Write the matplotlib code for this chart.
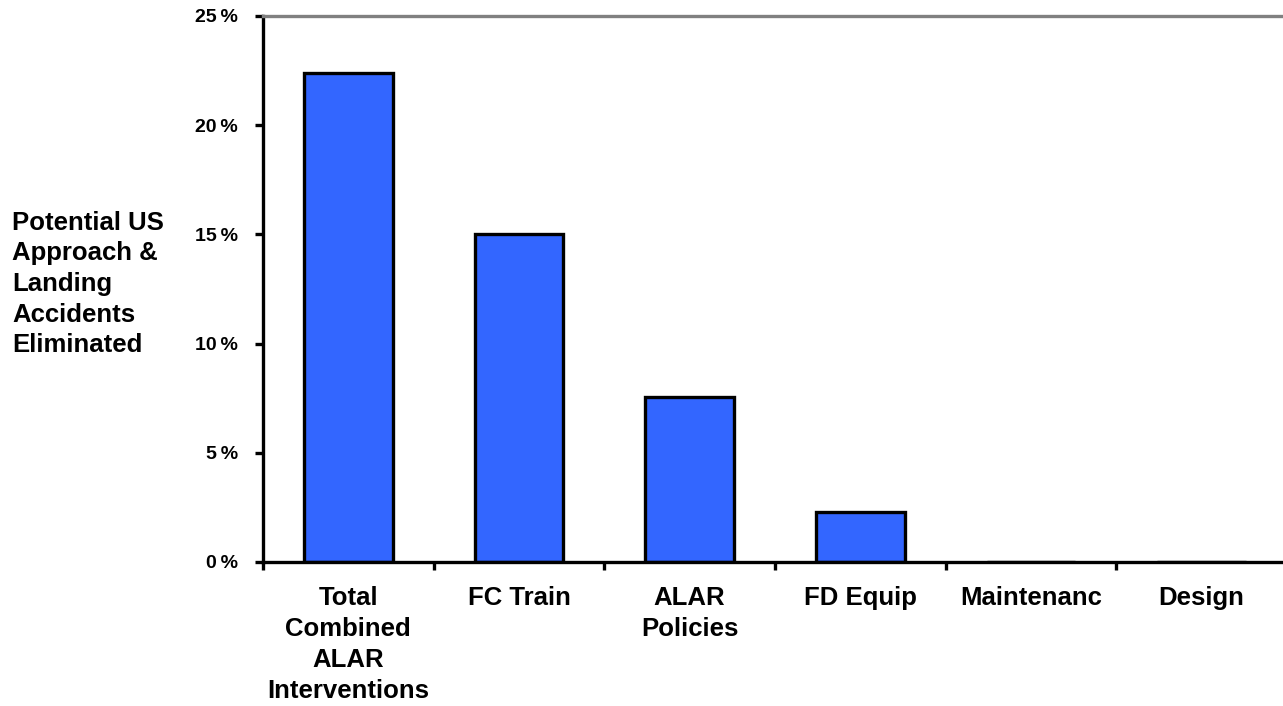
import numpy as np
import matplotlib.pyplot as plt
from matplotlib.ticker import FixedLocator, FuncFormatter

# data
categories = ['Total\nCombined\nALAR\nInterventions', 'FC Train', 'ALAR\nPolicies',
              'FD Equip', 'Maintenanc', 'Design']
values = [22.4, 15.0, 7.55, 2.3, 0.0, 0.0]
y_ticks = [0, 5, 10, 15, 20, 25]
ylabel = 'Potential US\nApproach &\nLanding\nAccidents\nEliminated'

plt.rcParams['font.family'] = ['Liberation Sans', 'DejaVu Sans']
plt.rcParams['font.weight'] = 'bold'

fig = plt.figure(figsize=(12.83, 7.06), dpi=100)
ax = fig.add_axes([263 / 1283, 1 - 562 / 706, 1024 / 1283, 546 / 706])

x = np.arange(len(categories))
ax.bar(x, values, width=0.52, color='#3366FF', edgecolor='black', linewidth=2.4, zorder=2)

ax.set_xlim(-0.5, len(categories) - 0.5)
ax.set_ylim(0, 25)

# y axis
ax.set_yticks(y_ticks)
ax.yaxis.set_major_formatter(FuncFormatter(lambda v, p: f'{int(v)}\u2009%'))
ax.tick_params(axis='y', direction='out', length=6, width=2.4, pad=12, labelsize=14)

# x axis: labels at centers, tick marks at boundaries
ax.set_xticks(x)
ax.set_xticklabels(categories, fontsize=18.5, linespacing=1.38)
ax.tick_params(axis='x', which='major', length=0, pad=17)
ax.xaxis.set_minor_locator(FixedLocator(np.arange(-0.5, len(categories), 1.0)))
ax.tick_params(axis='x', which='minor', direction='out', length=6, width=2.4)

for side in ['left', 'bottom']:
    ax.spines[side].set_linewidth(2.4)
    ax.spines[side].set_color('black')
ax.spines['top'].set_color('#808080')
ax.spines['top'].set_linewidth(2.4)
ax.spines['right'].set_visible(False)

fig.text(12 / 1283, 1 - 284 / 706, ylabel, ha='left', va='center',
         fontsize=18.5, fontweight='bold', linespacing=1.35)

fig.savefig('out.png', dpi=100, facecolor='white')
